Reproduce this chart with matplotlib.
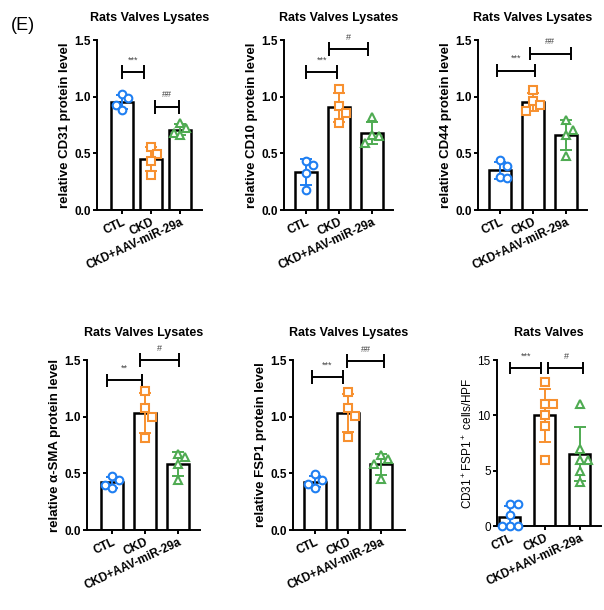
import numpy as np
import matplotlib
matplotlib.use('Agg')
import matplotlib.pyplot as plt

plt.rcParams['font.family'] = ['Liberation Sans', 'DejaVu Sans']
plt.rcParams['mathtext.fontset'] = 'custom'
plt.rcParams['mathtext.rm'] = 'Liberation Sans'

GROUPS = ['CTL', 'CKD', 'CKD+AAV-miR-29a']
COLORS = ['#1f7ff2', '#f7902f', '#4fab52']
MARKERS = ['o', 's', '^']

# individual points per group
cd31 = [[1.02, 0.99, 0.93, 0.88], [0.56, 0.49, 0.43, 0.31], [0.77, 0.72, 0.68, 0.66]]
cd10 = [[0.43, 0.40, 0.33, 0.18], [1.07, 0.92, 0.86, 0.77], [0.82, 0.66, 0.65, 0.59]]
cd44 = [[0.44, 0.39, 0.29, 0.28], [1.06, 0.96, 0.93, 0.87], [0.79, 0.71, 0.66, 0.48]]
asma = [[0.48, 0.44, 0.40, 0.37], [1.23, 1.08, 1.00, 0.81], [0.67, 0.64, 0.58, 0.44]]
fsp1 = [[0.49, 0.44, 0.41, 0.37], [1.22, 1.08, 1.01, 0.82], [0.66, 0.63, 0.58, 0.45]]
cells = [[2, 2, 1, 0, 0, 0], [13, 11, 11, 10, 9, 6], [11, 7, 6, 6, 5, 4]]

# significance brackets: (x1, x2, y, label)
sig_cd31 = [(0, 0.76, 1.22, '***'), (1.14, 1.97, 0.91, '##')]
sig_cd10 = [(0, 0.95, 1.22, '***'), (0.7, 1.88, 1.42, '#')]
sig_cd44 = [(-0.1, 1.05, 1.23, '***'), (0.9, 2.15, 1.38, '##')]
sig_asma = [(-0.15, 0.9, 1.32, '**'), (0.85, 2.03, 1.5, '#')]
sig_fsp1 = [(-0.1, 0.85, 1.35, '***'), (0.97, 2.09, 1.49, '##')]
sig_cells = [(0, 0.9, 14.3, '***'), (1.1, 2.1, 14.3, '#')]


def swarm(vals, thr, step=0.22):
    """ simple side-by-side placement for close values """
    placed = []
    offs = []
    for v in vals:
        near = [o for pv, o in placed if abs(pv - v) < thr]
        cand = [0, step, -step, 2 * step, -2 * step, 3 * step]
        o = next(c for c in cand if all(abs(c - n) > 1e-6 for n in near))
        placed.append((v, o))
        offs.append(o)
    return np.array(offs)


def panel(rect, data, sigs, title, ylabel, ymax, yticks, xlim, width,
          bold=True, thr=0.09, sig_h=0.06, title_pad=14):
    ax = fig.add_axes(rect)
    weight = 'bold' if bold else 'normal'
    x = np.arange(len(GROUPS))
    means = [np.mean(d) for d in data]
    sds = [np.std(d, ddof=1) for d in data]
    ax.bar(x, means, width=width, color='white', edgecolor='black',
           linewidth=1.8, zorder=1)
    for i, d in enumerate(data):
        xs = x[i] + swarm(d, thr)
        ax.errorbar(x[i], means[i], yerr=sds[i], color=COLORS[i], capsize=4,
                    elinewidth=1.4, capthick=1.4, zorder=3)
        ax.plot(xs, d, linestyle='none', marker=MARKERS[i], markersize=5.5,
                markerfacecolor='white', markeredgecolor=COLORS[i],
                markeredgewidth=1.5, zorder=4, clip_on=False)
    for x1, x2, y, lab in sigs:
        ax.hlines(y, x1, x2, color='black', lw=1.4, clip_on=False)
        ax.vlines([x1, x2], y - sig_h, y + sig_h, color='black', lw=1.4,
                  clip_on=False)
        ax.text((x1 + x2) / 2, y + sig_h * 1.1, lab, ha='center', va='bottom',
                fontsize=6.5, color='#444444')
    ax.set_xlim(*xlim)
    ax.set_ylim(0, ymax)
    ax.set_yticks(yticks)
    labels = [('%.1f' % t) if ymax < 5 else ('%d' % t) for t in yticks]
    ax.set_yticklabels(labels, fontsize=8.5, fontweight=weight)
    ax.set_xticks(x)
    ax.set_xticklabels(GROUPS, rotation=25, ha='right', rotation_mode='anchor',
                       fontsize=8.5, fontweight='bold')
    ax.spines['top'].set_visible(False)
    ax.spines['right'].set_visible(False)
    for s in ['left', 'bottom']:
        ax.spines[s].set_linewidth(1.4)
    ax.tick_params(width=1.4, length=3, pad=1.5)
    ax.set_title(title, fontsize=9, fontweight='bold' if bold else 'semibold',
                 pad=title_pad)
    ax.set_ylabel(ylabel, fontsize=9.5 if bold else 8.5, fontweight=weight, labelpad=2)
    return ax


fig = plt.figure(figsize=(6.04, 6.10), dpi=100)

panel([0.1606, 0.6557, 0.1738, 0.2787], cd31, sig_cd31, 'Rats Valves Lysates',
      'relative CD31 protein level', 1.5, [0, 0.5, 1.0, 1.5], (-0.86, 2.76), 0.75)
panel([0.4702, 0.6557, 0.1805, 0.2787], cd10, sig_cd10, 'Rats Valves Lysates',
      'relative CD10 protein level', 1.5, [0, 0.5, 1.0, 1.5], (-0.67, 2.64), 0.68)
panel([0.7914, 0.6557, 0.1805, 0.2787], cd44, sig_cd44, 'Rats Valves Lysates',
      'relative CD44 protein level', 1.5, [0, 0.5, 1.0, 1.5], (-0.67, 2.64), 0.68)
panel([0.1440, 0.1311, 0.1871, 0.2787], asma, sig_asma, 'Rats Valves Lysates',
      'relative α-SMA protein level', 1.5, [0, 0.5, 1.0, 1.5], (-0.76, 2.67), 0.68,
      title_pad=17)
panel([0.4851, 0.1311, 0.1854, 0.2787], fsp1, sig_fsp1, 'Rats Valves Lysates',
      'relative FSP1 protein level', 1.5, [0, 0.5, 1.0, 1.5], (-0.67, 2.73), 0.68,
      title_pad=17)
panel([0.8228, 0.1377, 0.1722, 0.2721], cells, sig_cells, 'Rats Valves',
      r'CD31$^+$FSP1$^+$ cells/HPF', 15, [0, 5, 10, 15], (-0.37, 2.6), 0.6,
      bold=False, thr=0.9, sig_h=0.55, title_pad=17)

fig.text(0.018, 0.958, '(E)', fontsize=13, ha='left', va='center')

fig.savefig('out.png', dpi=100)
